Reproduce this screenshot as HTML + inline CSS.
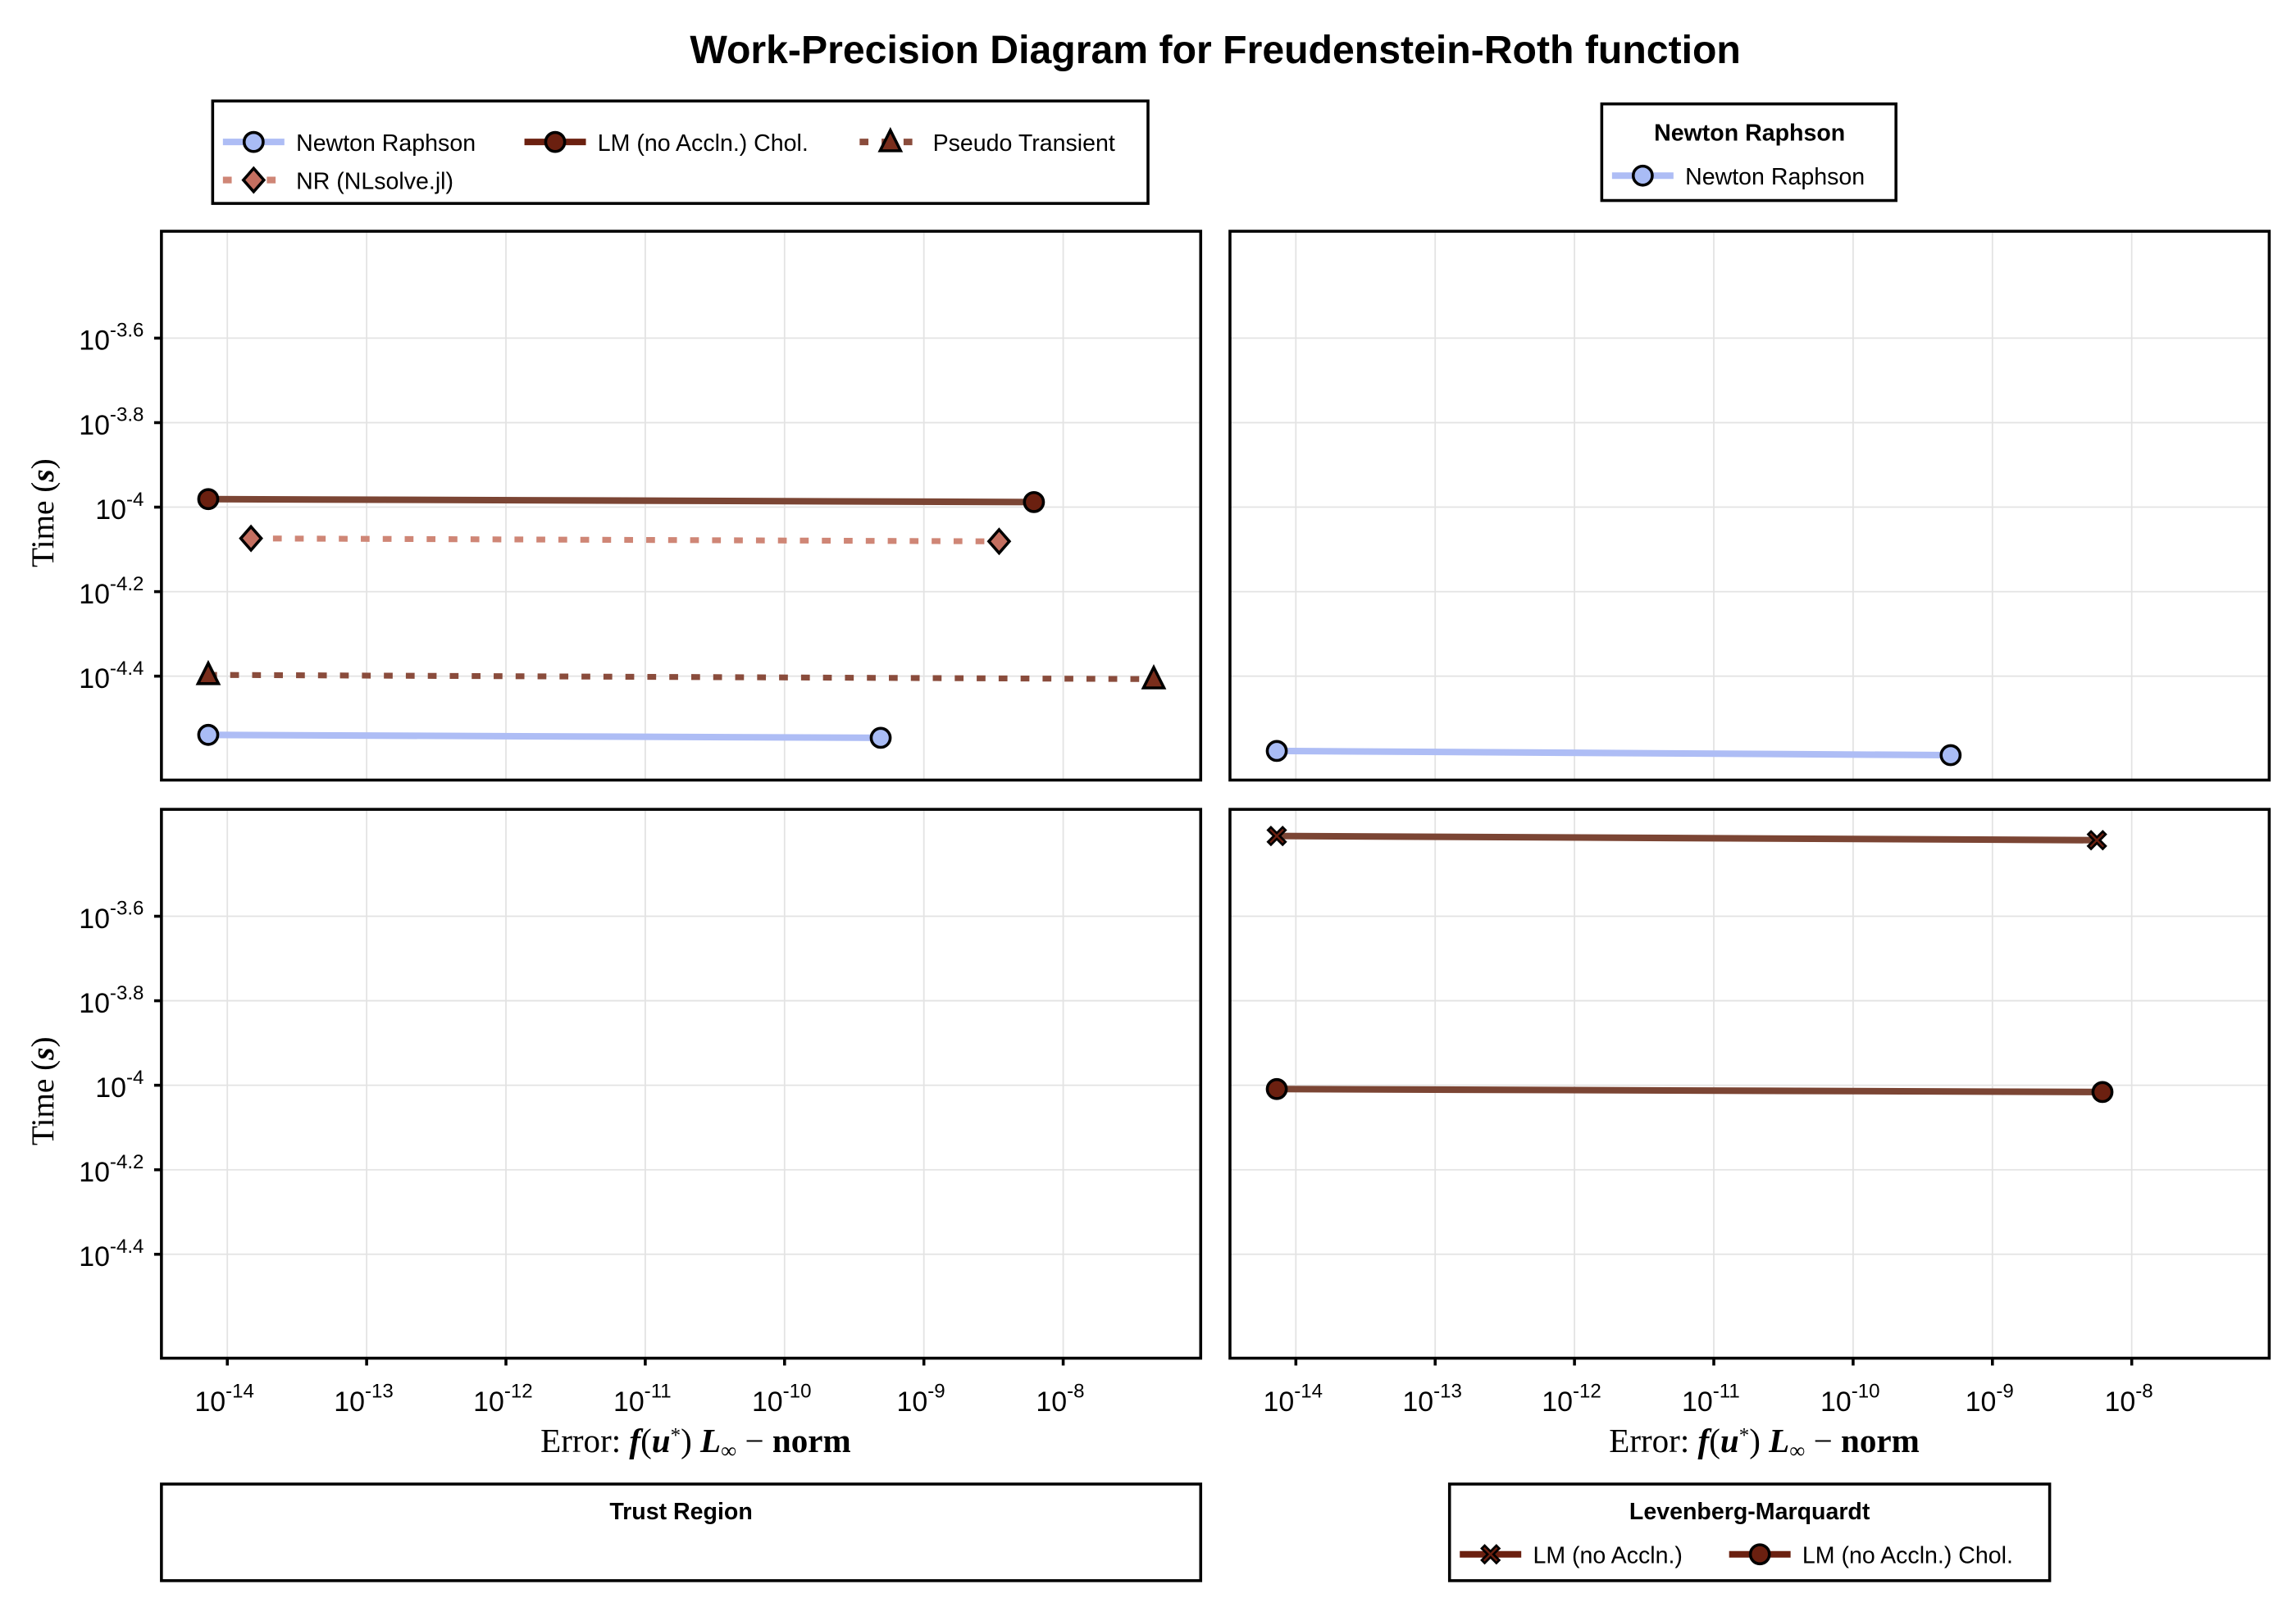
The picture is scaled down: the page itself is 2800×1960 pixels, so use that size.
<!DOCTYPE html>
<html><head><meta charset="utf-8"><style>
html,body{margin:0;padding:0;background:#fff;}
svg{display:block;}
text{font-family:"Liberation Sans",sans-serif;fill:#000;}
.serif{font-family:"Liberation Serif",serif;}
</style></head><body>
<svg id="chart" width="2800" height="1960" viewBox="0 0 1568 1098" xmlns="http://www.w3.org/2000/svg">
<rect x="0" y="0" width="1568" height="1098" fill="#fff"/>
<text x="830" y="43" text-anchor="middle" font-size="27" font-weight="bold">Work-Precision Diagram for Freudenstein-Roth function</text>
<g id="panels"></g>
<g id="legends"></g>
</svg>
<script>
// ---- data (log10 values) ----
const xTicks = [-14,-13,-12,-11,-10,-9,-8];
const yTicks = [-3.6,-3.8,-4,-4.2,-4.4];
const yTickLabels = ["-3.6","-3.8","-4","-4.2","-4.4"];
const xTickLabels = ["-14","-13","-12","-11","-10","-9","-8"];
const nrErr = [-14.137,-9.31];
const nrTime = [-4.539,-4.546];
const lmCholErr = [-14.137,-8.21];
const lmCholTime = [-3.981,-3.988];
const nlsolveErr = [-13.83,-8.46];
const nlsolveTime = [-4.074,-4.081];
const ptErr = [-14.137,-7.35];
const ptTime = [-4.397,-4.407];
const nr2Err = [-14.137,-9.30];
const nr2Time = [-4.577,-4.587];
const lmErr = [-14.137,-8.25];
const lmTime = [-3.41,-3.42];
const lmChol2Err = [-14.137,-8.21];
const lmChol2Time = [-4.009,-4.016];

const NS="http://www.w3.org/2000/svg";
const XMIN=-14.473, XMAX=-7.013, YMAX=-3.347, YMIN=-4.646;
function mk(tag, attrs, parent){const e=document.createElementNS(NS,tag);for(const k in attrs)e.setAttribute(k,attrs[k]);parent.appendChild(e);return e;}
const root=document.getElementById('panels');
const panels=[
 {x:110,y:158,name:'panel-newton-raphson-all',left:true,bottom:false},
 {x:840,y:158,name:'panel-newton-raphson',left:false,bottom:false},
 {x:110,y:553,name:'panel-trust-region',left:true,bottom:true},
 {x:840,y:553,name:'panel-levenberg-marquardt',left:false,bottom:true}];
const W=710,H=375;
function sx(p,v){return p.x+(v-XMIN)/(XMAX-XMIN)*W;}
function sy(p,v){return p.y+(YMAX-v)/(YMAX-YMIN)*H;}

function marker(g,type,x,y,fill){
  let e;
  if(type==='circle'){e=mk('circle',{cx:x,cy:y,r:6.5,fill:fill,stroke:'#000','stroke-width':2},g);}
  else if(type==='diamond'){e=mk('polygon',{points:`${x},${y-8} ${x+7},${y} ${x},${y+8} ${x-7},${y}`,fill:fill,stroke:'#000','stroke-width':2},g);}
  else if(type==='triangle'){e=mk('polygon',{points:`${x},${y-8} ${x+7},${y+6} ${x-7},${y+6}`,fill:fill,stroke:'#000','stroke-width':2},g);}
  else {e=mk('path',{d:`M${x-6},${y-4}L${x-4},${y-6}L${x},${y-2}L${x+4},${y-6}L${x+6},${y-4}L${x+2},${y}L${x+6},${y+4}L${x+4},${y+6}L${x},${y+2}L${x-4},${y+6}L${x-6},${y+4}L${x-2},${y}Z`,fill:fill,stroke:'#000','stroke-width':1.5},g);}
  return e;
}
function series(p,name,xs,ys,color,dash,mtype,mfill){
  const g=mk('g',{},root);
  
  
  const pts=xs.map((v,i)=>sx(p,v)+','+sy(p,ys[i])).join(' ');
  const attrs={points:pts,fill:'none',stroke:color,'stroke-width':dash?4:4.5};
  if(dash)attrs['stroke-dasharray']=dash;
  const l=mk('polyline',attrs,g);
  
  
  xs.forEach((v,i)=>{const m=marker(g,mtype,sx(p,v),sy(p,ys[i]),mfill);
    
    });
}

panels.forEach(p=>{
  const g=mk('g',{},root);
  
  
  xTicks.forEach(t=>{mk('line',{x1:sx(p,t),x2:sx(p,t),y1:p.y,y2:p.y+H,stroke:'#e3e3e3','stroke-width':1},g);});
  yTicks.forEach(t=>{mk('line',{x1:p.x,x2:p.x+W,y1:sy(p,t),y2:sy(p,t),stroke:'#e3e3e3','stroke-width':1},g);});
  mk('rect',{x:p.x,y:p.y,width:W,height:H,fill:'none',stroke:'#000','stroke-width':2},g);
  if(p.left){
    yTicks.forEach((t,i)=>{const y=sy(p,t);
      mk('line',{x1:p.x-5,x2:p.x,y1:y,y2:y,stroke:'#000','stroke-width':2},g);
      const tx=mk('text',{x:p.x-12,y:y+8,'text-anchor':'end','font-size':19},g);
      
      
      tx.innerHTML='10<tspan dy="-9" font-size="13.5">'+yTickLabels[i]+'</tspan>';});
    const yl=mk('text',{x:0,y:0,'text-anchor':'middle','font-size':22,class:'serif',transform:`translate(36,${p.y+H/2+5}) rotate(-90)`},g);
    
    
    yl.innerHTML='Time (<tspan font-style="italic" font-weight="bold">s</tspan>)';
  }
  if(p.bottom){
    xTicks.forEach((t,i)=>{const x=sx(p,t);
      mk('line',{x1:x,x2:x,y1:p.y+H,y2:p.y+H+5,stroke:'#000','stroke-width':2},g);
      const tx=mk('text',{x:x-2,y:p.y+H+36,'text-anchor':'middle','font-size':19},g);
      
      
      tx.innerHTML='10<tspan dy="-9" font-size="13.5">'+xTickLabels[i]+'</tspan>';});
    const xl=mk('text',{x:p.x+W/2+10,y:p.y+H+64,'text-anchor':'middle','font-size':23,class:'serif'},g);
    
    
    xl.innerHTML='Error: <tspan font-style="italic" font-weight="bold">f</tspan>(<tspan font-style="italic" font-weight="bold">u</tspan><tspan dy="-7" font-size="14">*</tspan><tspan dy="7">) </tspan><tspan font-style="italic" font-weight="bold">L</tspan><tspan dy="4" font-size="15">∞</tspan><tspan dy="-4"> − </tspan><tspan font-weight="bold">norm</tspan>';
  }
});
const P=panels;
series(P[0],'series-lm-chol',lmCholErr,lmCholTime,'#7b4534',null,'circle','#6b2010');
series(P[0],'series-nr-nlsolve',nlsolveErr,nlsolveTime,'#cf8676','6,9','diamond','#c46f60');
series(P[0],'series-pseudo-transient',ptErr,ptTime,'#8a4c3c','6,9','triangle','#7a2e1c');
series(P[0],'series-newton-raphson',nrErr,nrTime,'#aebdf5',null,'circle','#a9bcf5');
series(P[1],'series-newton-raphson-2',nr2Err,nr2Time,'#aebdf5',null,'circle','#a9bcf5');
series(P[3],'series-lm-no-accln',lmErr,lmTime,'#7b4534',null,'cross','#6b2010');
series(P[3],'series-lm-chol-2',lmChol2Err,lmChol2Time,'#7b4534',null,'circle','#6b2010');

// ---- legends ----
const L=document.getElementById('legends');
function box(name,x,y,w,h){const r=mk('rect',{x:x,y:y,width:w,height:h,fill:'#fff',stroke:'#000','stroke-width':2},L);
 }
function entry(name,x,y,label,color,dash,mtype,mfill){
 const g=mk('g',{},L);
 
 
 const a={x1:x,x2:x+42,y1:y,y2:y,stroke:color,'stroke-width':4.5};if(dash)a['stroke-dasharray']=dash;
 mk('line',a,g);marker(g,mtype,x+21,y,mfill);
 const t=mk('text',{x:x+50,y:y+6,'font-size':16},g);t.textContent=label;}
function title(name,x,y,txt){const t=mk('text',{x:x,y:y,'text-anchor':'middle','font-size':16,'font-weight':'bold'},L);
 t.textContent=txt;}
box('legend-all',145,69,639,70);
entry('legend-entry-newton-raphson',152,97,'Newton Raphson','#aebdf5',null,'circle','#a9bcf5');
entry('legend-entry-lm-chol',358,97,'LM (no Accln.) Chol.','#6b2010',null,'circle','#6b2010');
entry('legend-entry-pseudo-transient',587,97,'Pseudo Transient','#8a4c3c','6,9','triangle','#7a2e1c');
entry('legend-entry-nr-nlsolve',152,123,'NR (NLsolve.jl)','#cf8676','6,9','diamond','#c46f60');
box('legend-newton-raphson',1094,71,201,66);
title('legend-title-newton-raphson',1195,96,'Newton Raphson');
entry('legend-entry-newton-raphson-2',1101,120,'Newton Raphson','#aebdf5',null,'circle','#a9bcf5');
box('legend-trust-region',110,1014,710,66);
title('legend-title-trust-region',465,1038,'Trust Region');
box('legend-levenberg-marquardt',990,1014,410,66);
title('legend-title-levenberg-marquardt',1195,1038,'Levenberg-Marquardt');
entry('legend-entry-lm-no-accln',997,1062,'LM (no Accln.)','#6b2010',null,'cross','#6b2010');
entry('legend-entry-lm-chol-2',1181,1062,'LM (no Accln.) Chol.','#6b2010',null,'circle','#6b2010');
</script>
</body></html>
